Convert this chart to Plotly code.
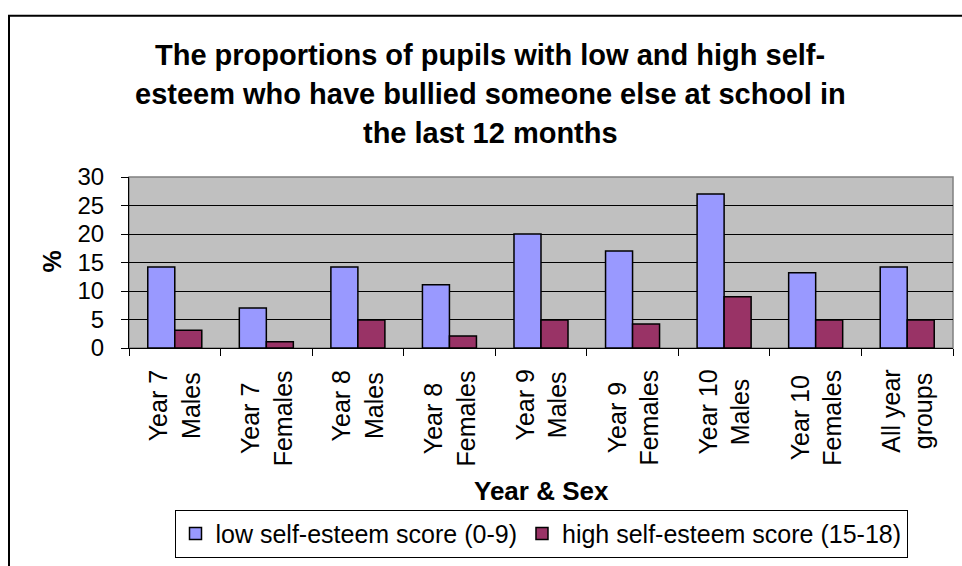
import plotly.graph_objects as go

# ---- data ----
categories = ["Year 7 Males", "Year 7 Females", "Year 8 Males", "Year 8 Females",
              "Year 9 Males", "Year 9 Females", "Year 10 Males", "Year 10 Females",
              "All year groups"]
tick_labels = ["Year 7<br>Males", "Year 7<br>Females", "Year 8<br>Males", "Year 8<br>Females",
               "Year 9<br>Males", "Year 9<br>Females", "Year 10<br>Males", "Year 10<br>Females",
               "All year<br>groups"]
low_esteem = [14.2, 7.0, 14.2, 11.1, 20.0, 17.0, 27.0, 13.2, 14.2]
high_esteem = [3.1, 1.1, 4.9, 2.1, 4.9, 4.2, 9.0, 4.9, 4.9]
series_names = ["low self-esteem score (0-9)", "high self-esteem score (15-18)"]
y_ticks = [0, 5, 10, 15, 20, 25, 30]
title_lines = ["The proportions of pupils with low and high self-",
               "esteem who have bullied someone else at school in",
               "the last 12 months"]
x_title = "Year & Sex"
y_title = "%"

FONT = "Liberation Sans, Arial, sans-serif"
W, H = 962, 566
L, R, T, B = 129, 9, 177, 215
PW, PH = W - L - R, H - T - B


def px_to_paper_x(px):
    return (px - L) / PW


def px_to_paper_y(py):
    return (H - B - py) / PH


fig = go.Figure()
fig.add_trace(go.Bar(x=categories, y=low_esteem, name=series_names[0],
                     marker=dict(color="#9999FF", line=dict(color="black", width=1.5))))
fig.add_trace(go.Bar(x=categories, y=high_esteem, name=series_names[1],
                     marker=dict(color="#993366", line=dict(color="black", width=1.5))))

annotations = []
for line, cy in zip(title_lines, [53, 92.5, 132]):
    annotations.append(dict(text=line, xref="paper", yref="paper",
                            x=px_to_paper_x(490), y=px_to_paper_y(cy),
                            xanchor="center", yanchor="middle", showarrow=False,
                            font=dict(family=FONT, size=29, color="black", weight="bold")))
# category labels, rotated, lines centred on each other
for cat, lab in zip(categories, tick_labels):
    annotations.append(dict(text=lab, xref="x", yref="y", x=cat, y=0,
                            xanchor="center", yanchor="top", yshift=-20,
                            textangle=-90, align="center", showarrow=False,
                            font=dict(family=FONT, size=25, color="black")))
annotations.append(dict(text=x_title, xref="paper", yref="paper",
                        x=0.5, y=px_to_paper_y(497), xanchor="center", yanchor="middle",
                        showarrow=False,
                        font=dict(family=FONT, size=26, color="black", weight="bold")))
annotations.append(dict(text=y_title, xref="paper", yref="paper",
                        x=px_to_paper_x(52), y=px_to_paper_y(263), xanchor="center",
                        yanchor="middle", textangle=-90, showarrow=False,
                        font=dict(family=FONT, size=25, color="black", weight="bold")))

shapes = [
    # outer chart frame
    dict(type="rect", xref="paper", yref="paper",
         x0=px_to_paper_x(9), x1=px_to_paper_x(990),
         y0=px_to_paper_y(600), y1=px_to_paper_y(13),
         line=dict(color="black", width=2), layer="below"),
    # plot area border (grey top/right)
    dict(type="rect", xref="paper", yref="paper", x0=0, x1=1, y0=0, y1=1,
         line=dict(color="#808080", width=1.5), layer="below"),
]

fig.update_layout(
    width=W, height=H,
    margin=dict(l=L, r=R, t=T, b=B, pad=0),
    paper_bgcolor="white",
    plot_bgcolor="#C0C0C0",
    barmode="group", bargap=0.41, bargroupgap=0,
    font=dict(family=FONT, size=24, color="black"),
    showlegend=True,
    hovermode=False,
    legend=dict(orientation="h", x=0.5, xanchor="center",
                y=px_to_paper_y(540), yanchor="middle",
                bordercolor="black", borderwidth=1, bgcolor="white",
                font=dict(family=FONT, size=25, color="black"),
                itemwidth=30, tracegroupgap=0),
    annotations=annotations,
    shapes=shapes,
)
fig.update_xaxes(tickmode="array", tickvals=categories, showticklabels=False,
                 ticks="outside", ticklen=7, tickcolor="black",
                 tickson="boundaries", showline=True, linecolor="black", linewidth=1,
                 showgrid=False, automargin=False)
fig.update_yaxes(range=[0, 30], tickvals=y_ticks, ticks="outside", ticklen=7,
                 tickcolor="black", showline=True, linecolor="black", linewidth=1,
                 showgrid=True, gridcolor="black", gridwidth=1, zeroline=False,
                 tickfont=dict(size=24), ticklabelstandoff=12, automargin=False)

fig.write_html("out.html",
               config={"displayModeBar": False, "staticPlot": True},
               post_script="document.body.style.margin='0';document.body.style.padding='0';"
                           "document.body.style.overflow='hidden';")
